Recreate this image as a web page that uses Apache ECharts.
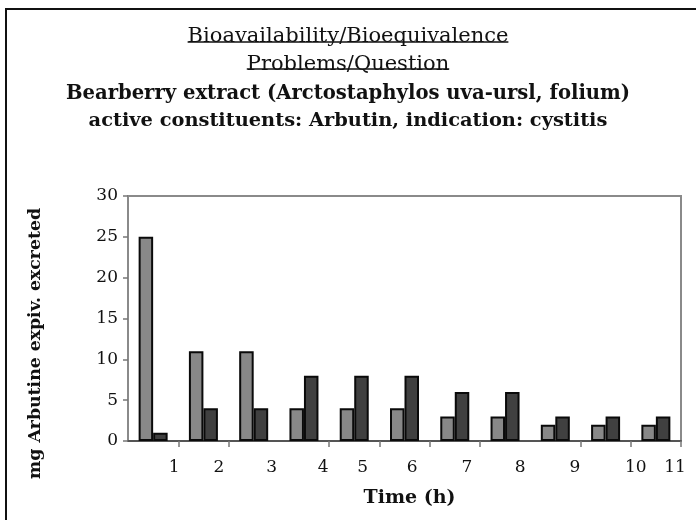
<!DOCTYPE html>
<html>
<head>
<meta charset="utf-8">
<title>Arbutin excretion</title>
<script src="https://cdn.jsdelivr.net/npm/echarts@6.0.0/dist/echarts.min.js"></script>
<style>
  body { margin: 0; background: #fff; }
  #wrap { position: relative; width: 696px; height: 520px; overflow: hidden; }
  #main { width: 696px; height: 520px; }
  #frame { position: absolute; left: 5px; top: 8px; width: 720px; height: 540px;
           border-left: 2px solid #111; border-top: 2px solid #111; pointer-events: none; }
</style>
</head>
<body>
<div id="wrap">
  <div id="main"></div>
  <div id="frame"></div>
</div>
<script type="text/javascript">
// data
var hours = ['1', '2', '3', '4', '5', '6', '7', '8', '9', '10', '11'];
var seriesA = [25, 11, 11, 4, 4, 4, 3, 3, 2, 2, 2];   // light bars
var seriesB = [1, 4, 4, 8, 8, 8, 6, 6, 3, 3, 3];      // dark bars
var yTicks = [0, 5, 10, 15, 20, 25, 30];
// the time labels under the axis sit a little off the bars in the original
var timeLabels = ['1', '2', '3', '4', '5', '6', '7', '8', '9', '10', '11'];
var timeLabelAt = [0.92, 1.81, 2.86, 3.88, 4.67, 5.65, 6.74, 7.80, 8.89, 10.1, 10.88];
var timeTickAt = [1, 2, 4, 5, 6, 7, 9, 10, 11];

var titleLines = [
  'Bioavailability/Bioequivalence',
  'Problems/Question',
  'Bearberry extract (Arctostaphylos uva-ursl, folium)',
  'active constituents: Arbutin, indication: cystitis'
];

var serif = 'DejaVu Serif';

// measure underlined lines so the rules fit the text
function textWidth(txt, font) {
  var c = document.createElement('canvas').getContext('2d');
  c.font = font;
  return c.measureText(txt).width;
}
var w1 = textWidth(titleLines[0], '21px "' + serif + '"');
var w2 = textWidth(titleLines[1], '21px "' + serif + '"');
var cx = 348;

var myChart = echarts.init(document.getElementById('main'));

var option = {
  animation: false,
  backgroundColor: '#fff',
  title: [
    { text: titleLines[0], left: 'center', top: 19,
      textStyle: { fontFamily: serif, fontSize: 21, fontWeight: 'normal', color: '#111', lineHeight: 25 } },
    { text: titleLines[1], left: 'center', top: 47,
      textStyle: { fontFamily: serif, fontSize: 21, fontWeight: 'normal', color: '#111', lineHeight: 25 } },
    { text: titleLines[2], left: 'center', top: 77,
      textStyle: { fontFamily: serif, fontSize: 19.6, fontWeight: 'bold', color: '#111', lineHeight: 24 } },
    { text: titleLines[3], left: 'center', top: 104,
      textStyle: { fontFamily: serif, fontSize: 19.4, fontWeight: 'bold', color: '#111', lineHeight: 24 } }
  ],
  graphic: [
    { type: 'line', shape: { x1: cx - w1 / 2, y1: 42, x2: cx + w1 / 2, y2: 42 },
      style: { stroke: '#111', lineWidth: 1.5 } },
    { type: 'line', shape: { x1: cx - w2 / 2, y1: 69, x2: cx + w2 / 2, y2: 69 },
      style: { stroke: '#111', lineWidth: 1.5 } }
  ],
  grid: {
    left: 128, right: 15, top: 196, bottom: 79,
    show: true, borderColor: '#8a8a8a', borderWidth: 2
  },
  xAxis: [
    {
      type: 'category',
      data: hours,
      axisLine: { lineStyle: { color: '#555', width: 2 } },
      axisTick: { show: false },
      axisLabel: { show: false }
    },
    {
      type: 'value',
      min: 0,
      max: 11,
      position: 'bottom',
      axisLine: { show: false },
      splitLine: { show: false },
      axisTick: { show: true, customValues: timeTickAt, length: 6,
        lineStyle: { color: '#777', width: 1.5 } },
      axisLabel: {
        customValues: timeLabelAt,
        margin: 18,
        fontFamily: serif, fontSize: 17, color: '#111',
        formatter: function (v) {
          var i = timeLabelAt.indexOf(v);
          return i >= 0 ? timeLabels[i] : '';
        }
      },
      name: 'Time (h)',
      nameLocation: 'middle',
      nameGap: 48,
      nameTextStyle: { fontFamily: serif, fontSize: 19, fontWeight: 'bold', color: '#111',
        padding: [0, 0, 0, 10] }
    }
  ],
  yAxis: {
    type: 'value',
    min: 0,
    max: 30,
    interval: 5,
    axisLine: { show: true, lineStyle: { color: '#8a8a8a', width: 2 } },
    axisTick: { show: true, length: 5, lineStyle: { color: '#777', width: 1.5 } },
    splitLine: { show: false },
    axisLabel: {
      margin: 10, fontFamily: serif, fontSize: 17, color: '#111',
      formatter: function (v) { return yTicks.indexOf(v) >= 0 ? String(v) : ''; }
    },
    name: 'mg Arbutine expiv. excreted',
    nameLocation: 'middle',
    nameGap: 84,
    nameTextStyle: { fontFamily: serif, fontSize: 17.3, fontWeight: 'bold', color: '#111',
      padding: [0, 50, 0, 0] }
  },
  series: [
    {
      name: 'A',
      type: 'bar',
      xAxisIndex: 0,
      data: seriesA,
      barWidth: 14.5,
      barGap: '0%',
      itemStyle: { color: '#888888', borderColor: '#0a0a0a', borderWidth: 2 }
    },
    {
      name: 'B',
      type: 'bar',
      xAxisIndex: 0,
      data: seriesB,
      barWidth: 14.5,
      barGap: '0%',
      itemStyle: { color: '#404040', borderColor: '#0a0a0a', borderWidth: 2 }
    }
  ]
};

myChart.setOption(option);
</script>
</body>
</html>
